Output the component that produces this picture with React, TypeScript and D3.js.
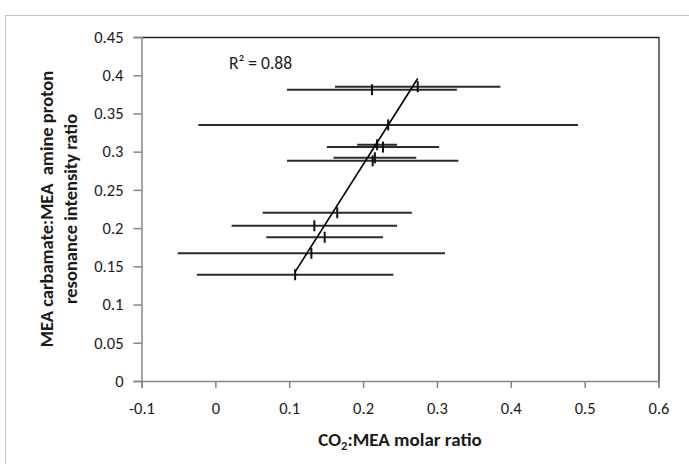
import React, { useRef, useEffect } from 'react';
import * as d3 from 'd3';

// CO2:MEA molar ratio (x), with its horizontal error
const molarRatio = [0.274, 0.212, 0.234, 0.219, 0.227, 0.216, 0.213, 0.165, 0.134, 0.148, 0.130, 0.108];
const ratioError = [0.112, 0.115, 0.257, 0.027, 0.076, 0.056, 0.116, 0.101, 0.112, 0.079, 0.181, 0.133];
// carbamate:amine resonance intensity ratio (y)
const intensityRatio = [0.385, 0.381, 0.335, 0.309, 0.306, 0.292, 0.288, 0.220, 0.203, 0.188, 0.167, 0.139];

const xTicks = [-0.1, 0, 0.1, 0.2, 0.3, 0.4, 0.5, 0.6];
const xTickLabels = ['-0.1', '0', '0.1', '0.2', '0.3', '0.4', '0.5', '0.6'];
const yTicks = [0, 0.05, 0.1, 0.15, 0.2, 0.25, 0.3, 0.35, 0.4, 0.45];
const yTickLabels = ['0', '0.05', '0.1', '0.15', '0.2', '0.25', '0.3', '0.35', '0.4', '0.45'];

const rSquaredLabel = 'R\u00B2 = 0.88';
const yTitleLines = ['MEA carbamate:MEA  amine proton', 'resonance intensity ratio'];

const font = 'Calibri, Carlito, Lato, sans-serif';

export default function App() {
    const ref = useRef<SVGSVGElement>(null);

    useEffect(() => {
        const svg = d3.select(ref.current);
        svg.selectAll('*').remove();

        const width = 689, height = 464;
        const left = 141.5, right = 658.5, top = 37, bottom = 381;

        const x = d3.scaleLinear().domain([-0.1, 0.6]).range([left, right]);
        const y = d3.scaleLinear().domain([0, 0.45]).range([bottom, top]);

        svg.append('rect').attr('width', width).attr('height', height).attr('fill', '#fff');

        // outer chart frame (runs off the right and bottom)
        svg.append('rect')
            .attr('x', 5.5).attr('y', 15.5)
            .attr('width', width + 20).attr('height', height + 20)
            .attr('fill', 'none').attr('stroke', '#c4c4c4');

        // top and right border of the plot area
        svg.append('path')
            .attr('d', `M${left},${top + 0.5}H${right + 0.5}V${bottom}`)
            .attr('fill', 'none').attr('stroke', '#262626').attr('stroke-width', 1.3);

        const yAxis = svg.append('g')
            .attr('transform', `translate(${left},0)`)
            .call(d3.axisLeft(y).tickValues(yTicks).tickSize(8).tickPadding(10)
                .tickFormat((d, i) => yTickLabels[i]));

        const xAxis = svg.append('g')
            .attr('transform', `translate(0,${bottom})`)
            .call(d3.axisBottom(x).tickValues(xTicks).tickSize(7).tickPadding(10)
                .tickFormat((d, i) => xTickLabels[i]));

        [yAxis, xAxis].forEach(g => {
            g.select('.domain').attr('stroke', '#868686').attr('stroke-width', 1.5);
            g.selectAll('.tick line').attr('stroke', '#868686').attr('stroke-width', 1.5);
            g.selectAll('.tick text')
                .attr('fill', '#1a1a1a')
                .style('font-family', font)
                .style('font-size', '16.5px');
        });
        xAxis.selectAll('.tick text').attr('dy', '0.95em');

        // horizontal error bars
        svg.append('g').selectAll('line')
            .data(molarRatio)
            .enter()
            .append('line')
                .attr('x1', (d, i) => x(d - ratioError[i]))
                .attr('x2', (d, i) => x(d + ratioError[i]))
                .attr('y1', (d, i) => y(intensityRatio[i]))
                .attr('y2', (d, i) => y(intensityRatio[i]))
                .attr('stroke', '#2b2b2b')
                .attr('stroke-width', 2);

        // point markers (short vertical dashes)
        svg.append('g').selectAll('line')
            .data(molarRatio)
            .enter()
            .append('line')
                .attr('x1', d => x(d))
                .attr('x2', d => x(d))
                .attr('y1', (d, i) => y(intensityRatio[i]) - 5.5)
                .attr('y2', (d, i) => y(intensityRatio[i]) + 5.5)
                .attr('stroke', '#111')
                .attr('stroke-width', 2);

        // linear trendline over the data range
        const mx = d3.mean(molarRatio) as number;
        const my = d3.mean(intensityRatio) as number;
        const sxy = d3.sum(molarRatio, (d, i) => (d - mx) * (intensityRatio[i] - my));
        const sxx = d3.sum(molarRatio, d => (d - mx) * (d - mx));
        const slope = sxy / sxx;
        const intercept = my - slope * mx;
        const [x0, x1] = d3.extent(molarRatio) as [number, number];

        svg.append('path')
            .datum([x0, x1])
            .attr('d', d3.line<number>().x(d => x(d)).y(d => y(intercept + slope * d)))
            .attr('fill', 'none')
            .attr('stroke', '#000')
            .attr('stroke-width', 1.6);

        svg.append('text')
            .attr('x', 229).attr('y', 69)
            .attr('fill', '#1a1a1a')
            .style('font-family', font)
            .style('font-size', '17.5px')
            .text(rSquaredLabel);

        // axis titles
        const xTitle = svg.append('text')
            .attr('x', (left + right) / 2).attr('y', 446)
            .attr('text-anchor', 'middle')
            .attr('fill', '#1a1a1a')
            .style('font-family', font)
            .style('font-size', '19px')
            .style('font-weight', 'bold');
        xTitle.append('tspan').text('CO');
        xTitle.append('tspan').attr('dy', 4).style('font-size', '12.5px').text('2');
        xTitle.append('tspan').attr('dy', -4).text(':MEA molar ratio');

        yTitleLines.forEach((line, i) => {
            svg.append('text')
                .attr('transform', `translate(${53 + i * 24},${(top + bottom) / 2}) rotate(-90)`)
                .attr('text-anchor', 'middle')
                .attr('fill', '#1a1a1a')
                .style('font-family', font)
                .style('font-size', '18.5px')
                .style('font-weight', 'bold')
                .style('white-space', 'pre')
                .text(line);
        });
    }, []);

    return (
        <svg ref={ref} width={689} height={464}
            style={{ position: 'absolute', left: 0, top: 0, display: 'block' }} />
    );
}
